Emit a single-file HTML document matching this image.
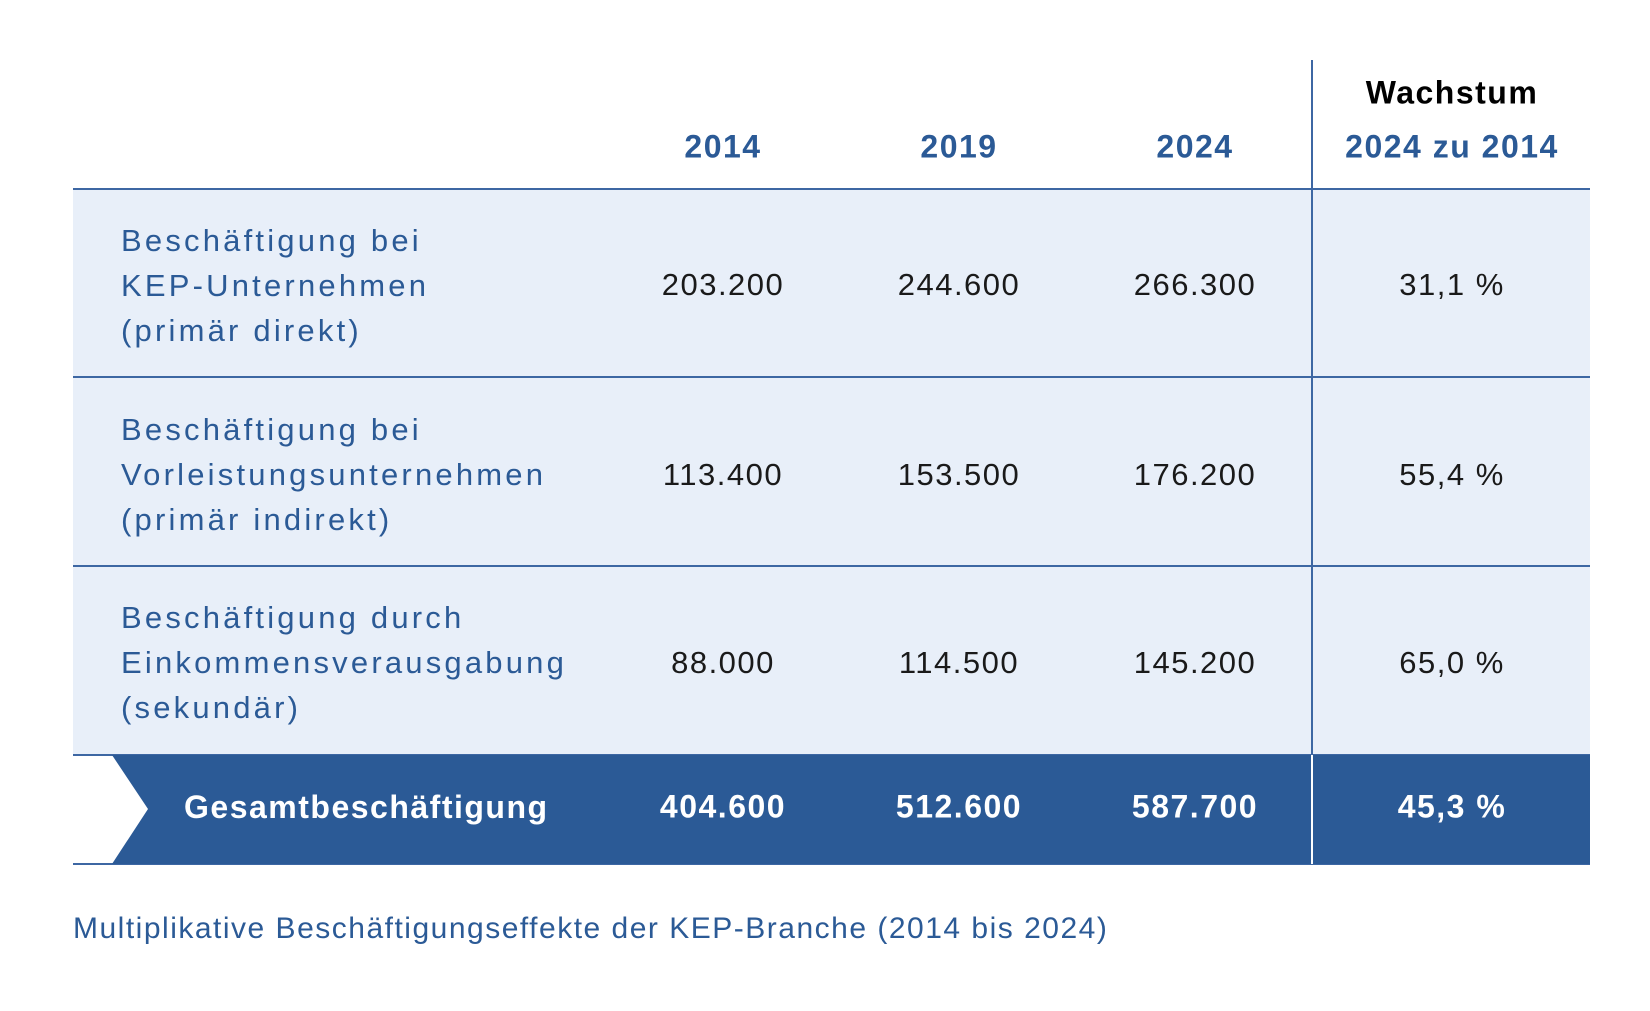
<!DOCTYPE html>
<html><head><meta charset="utf-8"><style>
body{margin:0;width:1650px;height:1011px;background:#fff;position:relative;overflow:hidden;font-family:"Liberation Sans",sans-serif}
.a{position:absolute;white-space:nowrap}
.c{transform:translate(-50%,-50%)}
.hd{font-size:32px;font-weight:bold;color:#2b5a96;letter-spacing:1.5px}
.lb{font-size:31px;color:#2b5a96;letter-spacing:3.2px;line-height:45px;left:121px}
.n{font-size:31px;color:#1a1a1a;letter-spacing:1.5px}
.t{font-size:32px;font-weight:bold;color:#fff;letter-spacing:1.5px}
</style></head><body>
<div class="a" style="left:73px;top:189px;width:1517px;height:566px;background:#e8eff9"></div>
<div class="a" style="left:73px;top:188px;width:1517px;height:2px;background:#3d67a3"></div>
<div class="a" style="left:73px;top:376px;width:1517px;height:2px;background:#3d67a3"></div>
<div class="a" style="left:73px;top:565px;width:1517px;height:2px;background:#3d67a3"></div>
<div class="a" style="left:73px;top:754px;width:1517px;height:2px;background:#3d67a3"></div>
<div class="a" style="left:73px;top:863px;width:1517px;height:2px;background:#3d67a3"></div>
<svg class="a" style="left:0;top:0" width="1650" height="1011"><polygon points="112,755 1590,755 1590,864 112,864 148,809" fill="#2b5a96"/></svg>
<div class="a" style="left:1311px;top:60px;width:2px;height:695px;background:#3d67a3"></div>
<div class="a" style="left:1311px;top:755px;width:2px;height:109px;background:#fff"></div>

<div class="a c" style="left:1452px;top:93px;font-size:32px;font-weight:bold;color:#000;letter-spacing:1.5px">Wachstum</div>
<div class="a c hd" style="left:723px;top:147px">2014</div>
<div class="a c hd" style="left:959px;top:147px">2019</div>
<div class="a c hd" style="left:1195px;top:147px">2024</div>
<div class="a c hd" style="left:1452px;top:147px">2024 zu 2014</div>

<div class="a lb" style="top:218px">Beschäftigung bei<br>KEP-Unternehmen<br>(primär direkt)</div>
<div class="a lb" style="top:407px">Beschäftigung bei<br>Vorleistungsunternehmen<br>(primär indirekt)</div>
<div class="a lb" style="top:595px">Beschäftigung durch<br>Einkommensverausgabung<br>(sekundär)</div>

<div class="a c n" style="left:723px;top:285px">203.200</div>
<div class="a c n" style="left:959px;top:285px">244.600</div>
<div class="a c n" style="left:1195px;top:285px">266.300</div>
<div class="a c n" style="left:1452px;top:285px">31,1 %</div>
<div class="a c n" style="left:723px;top:475px">113.400</div>
<div class="a c n" style="left:959px;top:475px">153.500</div>
<div class="a c n" style="left:1195px;top:475px">176.200</div>
<div class="a c n" style="left:1452px;top:475px">55,4 %</div>
<div class="a c n" style="left:723px;top:663px">88.000</div>
<div class="a c n" style="left:959px;top:663px">114.500</div>
<div class="a c n" style="left:1195px;top:663px">145.200</div>
<div class="a c n" style="left:1452px;top:663px">65,0 %</div>

<div class="a t" style="left:184px;top:789px">Gesamtbeschäftigung</div>
<div class="a c t" style="left:723px;top:807px">404.600</div>
<div class="a c t" style="left:959px;top:807px">512.600</div>
<div class="a c t" style="left:1195px;top:807px">587.700</div>
<div class="a c t" style="left:1452px;top:807px">45,3 %</div>

<div class="a" style="left:73px;top:912px;font-size:30px;color:#2b5a96;letter-spacing:1.5px">Multiplikative Beschäftigungseffekte der KEP-Branche (2014 bis 2024)</div>
</body></html>
